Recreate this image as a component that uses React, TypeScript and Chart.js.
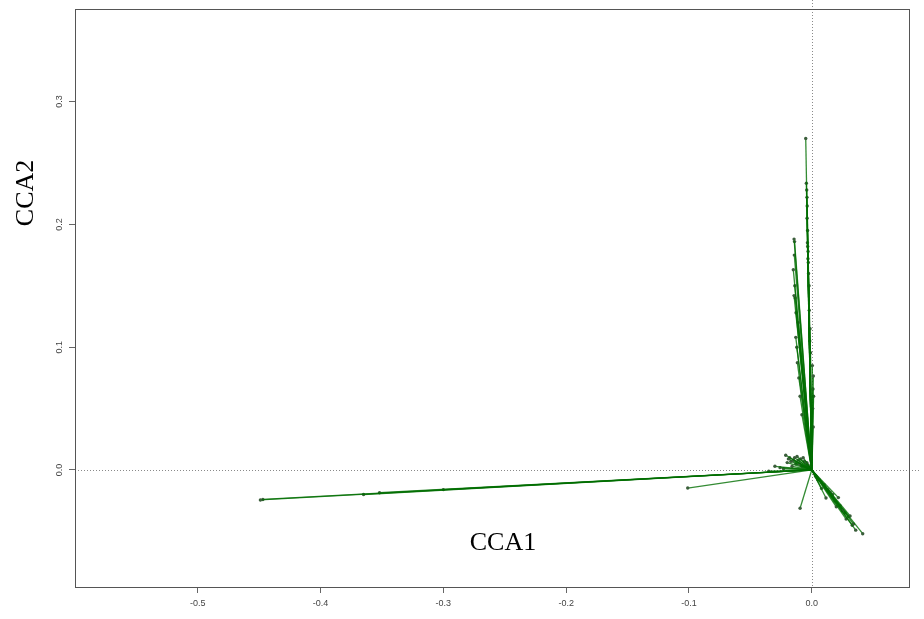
import React, { useEffect, useRef } from 'react';
import { Chart, registerables } from 'chart.js';
Chart.register(...registerables);

// Arrow tips (scores) on CCA1 and CCA2
const CCA1_END = [
  -0.449, -0.447, -0.365, -0.352, -0.300, -0.101, -0.030, -0.035,
  -0.0049, -0.0044, -0.0041, -0.0039, -0.0037, -0.0035, -0.0033, -0.0030, -0.0028, -0.0022, -0.0014, -0.0010, 0.0013, 0.0010, 0.0008, 0.0012,
  -0.0038, -0.0034, -0.0031, -0.0026, -0.0020, -0.0016, 0.0005, 0.0015,
  -0.0144, -0.0140, -0.0150, -0.0144, -0.0135, -0.0130, -0.0117, -0.0110, -0.0095, -0.0080,
  -0.0142, -0.0138, -0.0128, -0.0122, -0.0105,
  0.0415, 0.0358, 0.0330, 0.0312, 0.0280, 0.0250, 0.0217, 0.0200, 0.0150, 0.0116, 0.0100, 0.0080, 0.0060, 0.0040,
  0.0340, 0.0300, 0.0270, 0.0230, 0.0190, 0.0170, 0.0130,
  -0.0095,
  -0.0258, -0.0212, -0.0180, -0.0150, -0.0120, -0.0070, -0.0100, -0.0200, -0.0050, -0.0030, 0.0030, 0.0050, -0.0160, -0.0230,
  -0.0190, -0.0170, -0.0140, -0.0110, -0.0090, -0.0060, -0.0040, -0.0130, -0.0080,
];
const CCA2_END = [
  -0.0244, -0.0240, -0.0200, -0.0185, -0.0160, -0.0147, 0.0030, -0.0010,
  0.270, 0.2335, 0.228, 0.222, 0.215, 0.185, 0.182, 0.178, 0.169, 0.150, 0.115, 0.0955, 0.0765, 0.066, 0.050, 0.035,
  0.205, 0.195, 0.172, 0.160, 0.130, 0.105, 0.085, 0.060,
  0.188, 0.186, 0.163, 0.142, 0.140, 0.108, 0.0874, 0.120, 0.060, 0.045,
  0.175, 0.150, 0.128, 0.100, 0.075,
  -0.0519, -0.0490, -0.0450, -0.0375, -0.0400, -0.0330, -0.0225, -0.0300, -0.0180, -0.0228, -0.0120, -0.0150, -0.0080, -0.0060,
  -0.0440, -0.0380, -0.0350, -0.0290, -0.0250, -0.0200, -0.0160,
  -0.0312,
  0.0019, 0.0120, 0.0100, 0.0080, 0.0110, 0.0100, 0.0050, 0.0060, 0.0060, 0.0040, -0.0050, -0.0080, 0.0030, 0.0010,
  0.0090, 0.0070, 0.0100, 0.0080, 0.0090, 0.0070, 0.0060, 0.0050, 0.0030,
];

const X_TICKS = [-0.5, -0.4, -0.3, -0.2, -0.1, 0.0];
const Y_TICKS = [0.0, 0.1, 0.2, 0.3];
const X_TITLE = 'CCA1';
const Y_TITLE = 'CCA2';

const framePlugin = {
  id: 'frame',
  beforeDatasetsDraw(chart: any) {
    const { ctx, chartArea, scales } = chart;
    const x0 = scales.x.getPixelForValue(0);
    const y0 = scales.y.getPixelForValue(0);
    ctx.save();
    ctx.strokeStyle = '#8a8a8a';
    ctx.lineWidth = 1;
    ctx.setLineDash([1, 2]);
    ctx.beginPath();
    ctx.moveTo(Math.round(x0) + 0.5, 0);
    ctx.lineTo(Math.round(x0) + 0.5, chartArea.bottom);
    ctx.moveTo(chartArea.left, Math.round(y0) + 0.5);
    ctx.lineTo(chart.width - 4, Math.round(y0) + 0.5);
    ctx.stroke();
    ctx.restore();
  },
  afterDraw(chart: any) {
    const { ctx, chartArea, scales } = chart;
    ctx.save();
    ctx.strokeStyle = '#555';
    ctx.lineWidth = 1;
    ctx.strokeRect(Math.round(chartArea.left) + 0.5, Math.round(chartArea.top) + 0.5,
      Math.round(chartArea.right - chartArea.left), Math.round(chartArea.bottom - chartArea.top));
    ctx.fillStyle = '#000';
    ctx.font = '26px "Liberation Serif", serif';
    ctx.textAlign = 'center';
    ctx.textBaseline = 'middle';
    ctx.fillText(X_TITLE, scales.x.getPixelForValue(-0.2515), scales.y.getPixelForValue(-0.0595));
    ctx.translate(26, scales.y.getPixelForValue(0.2256));
    ctx.rotate(-Math.PI / 2);
    ctx.fillText(Y_TITLE, 0, 0);
    ctx.restore();
  },
};

export default function App() {
  const ref = useRef<HTMLCanvasElement>(null);
  useEffect(() => {
    document.body.style.margin = '0';
    const datasets = CCA1_END.map((x, i) => ({
      data: [{ x: 0, y: 0 }, { x, y: CCA2_END[i] }],
      showLine: true,
      borderColor: 'rgba(0,110,0,0.8)',
      borderWidth: 1.3,
      pointRadius: [0, 1.7],
      pointBackgroundColor: '#3b5e3b',
      pointBorderWidth: 0,
    }));
    const tickFont = { family: '"Liberation Sans", Arial, sans-serif', size: 9 };
    const chart = new Chart(ref.current as HTMLCanvasElement, {
      type: 'scatter',
      data: { datasets },
      plugins: [framePlugin],
      options: {
        animation: false,
        responsive: false,
        events: [],
        layout: { padding: { top: 9, right: 15, left: 0, bottom: 0 } },
        plugins: { legend: { display: false }, tooltip: { enabled: false } },
        scales: {
          x: {
            type: 'linear',
            min: -0.6,
            max: 0.0792,
            afterBuildTicks: (s: any) => { s.ticks = X_TICKS.map((v) => ({ value: v })); },
            afterFit: (s: any) => { s.height = 32; s.paddingLeft = 0; s.paddingRight = 0; },
            ticks: {
              callback: (v: any) => Number(v).toFixed(1),
              font: tickFont,
              color: '#444',
              padding: 5,
              autoSkip: false,
              maxRotation: 0,
            },
            grid: { display: true, drawOnChartArea: false, drawTicks: true, tickLength: 6, color: '#666' },
            border: { display: true, color: '#555' },
          },
          y: {
            type: 'linear',
            min: -0.0953,
            max: 0.3754,
            afterBuildTicks: (s: any) => { s.ticks = Y_TICKS.map((v) => ({ value: v })); },
            afterFit: (s: any) => { s.width = 75; s.paddingTop = 0; s.paddingBottom = 0; },
            ticks: {
              callback: (v: any) => Number(v).toFixed(1),
              font: tickFont,
              color: '#444',
              padding: 3,
              autoSkip: false,
              minRotation: 90,
              maxRotation: 90,
              crossAlign: 'center',
            },
            grid: { display: true, drawOnChartArea: false, drawTicks: true, tickLength: 6, color: '#666' },
            border: { display: true, color: '#555' },
          },
        },
      } as any,
    });
    return () => chart.destroy();
  }, []);
  return <canvas ref={ref} width={924} height={619} />;
}
